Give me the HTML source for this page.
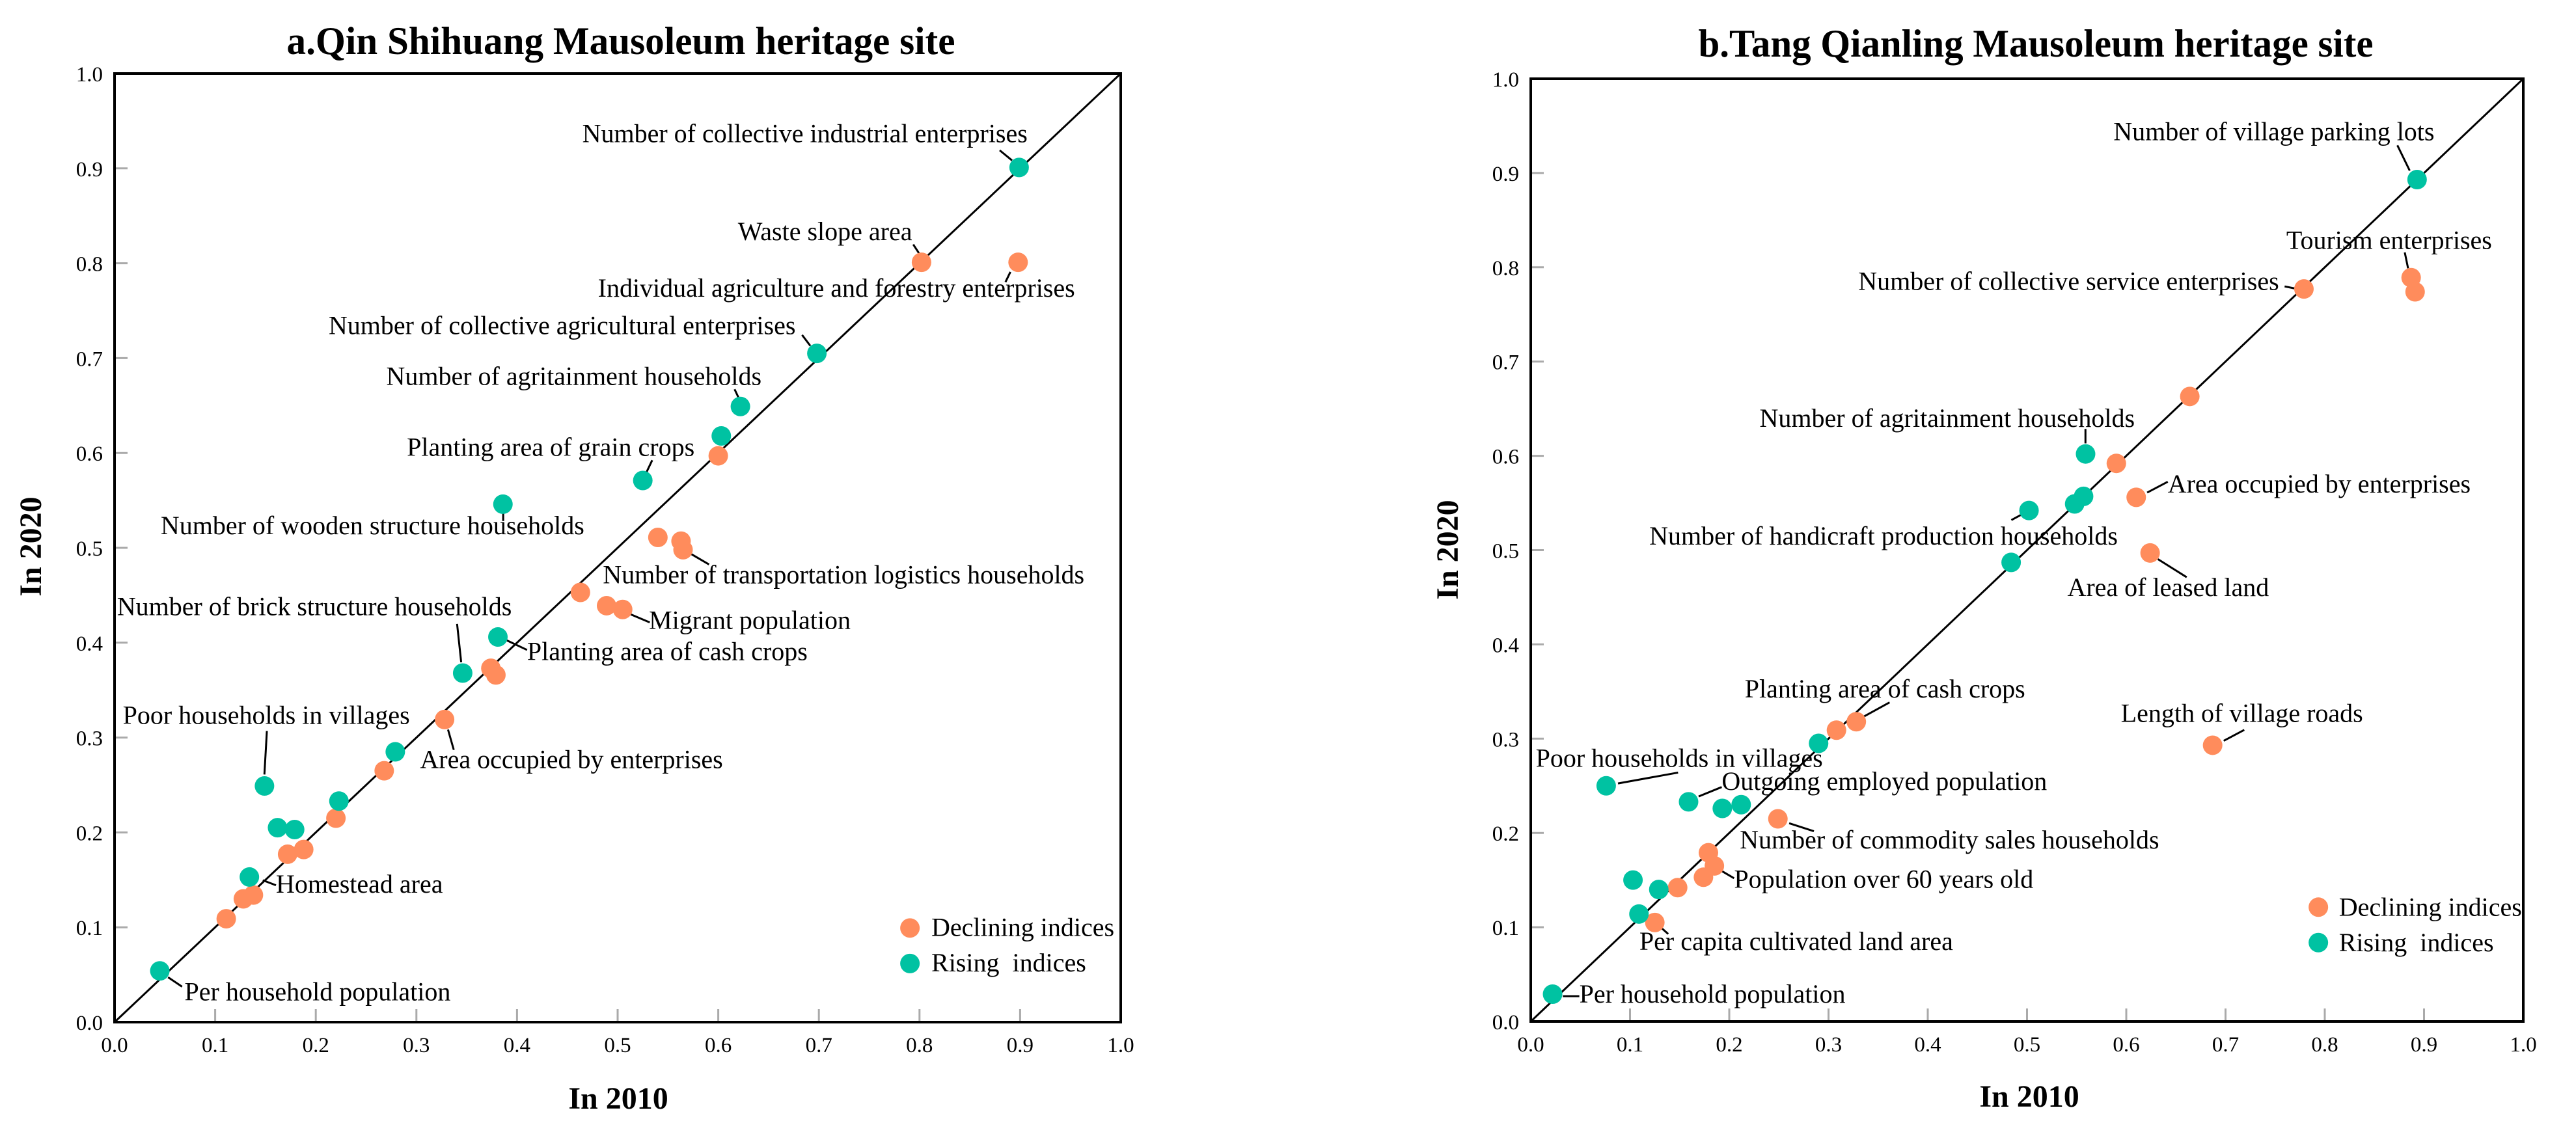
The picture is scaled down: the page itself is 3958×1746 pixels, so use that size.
<!DOCTYPE html>
<html><head><meta charset="utf-8"><style>
html,body{margin:0;padding:0;background:#fff}
svg{display:block}
svg text{font-family:"Liberation Serif","Times New Roman",serif}
</style></head><body>
<svg id="chart" width="3958" height="1746" viewBox="0 0 3958 1746" xmlns="http://www.w3.org/2000/svg" font-family="Liberation Serif, serif">
<text x="954" y="83" text-anchor="middle" font-size="60" font-weight="bold" textLength="1027" lengthAdjust="spacingAndGlyphs">a.Qin Shihuang Mausoleum heritage site</text>
<text x="3128" y="87" text-anchor="middle" font-size="60" font-weight="bold" textLength="1037" lengthAdjust="spacingAndGlyphs">b.Tang Qianling Mausoleum heritage site</text>
<text x="950" y="1704" text-anchor="middle" font-size="48" font-weight="bold">In 2010</text>
<text x="3118" y="1701" text-anchor="middle" font-size="48" font-weight="bold">In 2010</text>
<text transform="translate(63,840) rotate(-90)" text-anchor="middle" font-size="48" font-weight="bold">In 2020</text>
<text transform="translate(2240,845) rotate(-90)" text-anchor="middle" font-size="48" font-weight="bold">In 2020</text>
</svg>
<script>
// ---- data: panel a ----
const aRiseX=[0.899,0.698,0.622,0.603,0.525,0.386,0.381,0.346,0.279,0.223,0.149,0.162,0.179,0.134,0.045];
const aRiseY=[0.901,0.705,0.649,0.618,0.571,0.546,0.406,0.368,0.285,0.233,0.249,0.205,0.203,0.153,0.054];
const aDeclX=[0.802,0.898,0.600,0.540,0.563,0.565,0.463,0.489,0.505,0.374,0.379,0.328,0.268,0.220,0.172,0.188,0.128,0.138,0.111];
const aDeclY=[0.801,0.801,0.597,0.511,0.507,0.498,0.453,0.439,0.435,0.373,0.366,0.319,0.265,0.215,0.177,0.182,0.130,0.134,0.109];
// ---- data: panel b ----
const bRiseX=[0.893,0.559,0.557,0.548,0.502,0.484,0.290,0.076,0.159,0.193,0.212,0.103,0.129,0.109,0.022];
const bRiseY=[0.893,0.602,0.557,0.549,0.542,0.487,0.295,0.250,0.233,0.226,0.230,0.150,0.140,0.114,0.029];
const bDeclX=[0.887,0.891,0.779,0.664,0.590,0.610,0.624,0.687,0.328,0.308,0.249,0.179,0.185,0.174,0.148,0.125];
const bDeclY=[0.789,0.774,0.777,0.663,0.592,0.556,0.497,0.293,0.318,0.309,0.215,0.179,0.165,0.153,0.142,0.105];
const tickLabels=["0.0","0.1","0.2","0.3","0.4","0.5","0.6","0.7","0.8","0.9","1.0"];
const ORANGE="#FF8C5C", TEAL="#00C2A2";
const SERIF="Liberation Serif, serif";

const svg=document.getElementById('chart');
const NS="http://www.w3.org/2000/svg";
function mk(tag,attrs){const e=document.createElementNS(NS,tag);for(const k in attrs)e.setAttribute(k,attrs[k]);if(tag==='text')e.setAttribute('font-family',SERIF);svg.appendChild(e);return e;}

const panels=[
 {id:'a',x0:176,x1:1722,y0:1571,y1:113,zx0:140,zx1:1362,zy0:1412,zy1:102,
  rx:aRiseX,ry:aRiseY,dx:aDeclX,dy:aDeclY,
  labels:[
   ["Number of collective industrial enterprises",708,197,1215,208,1230,222],
   ["Waste slope area",897,332,1110,338,1118,352],
   ["Individual agriculture and forestry enterprises",727,410,1228,376,1222,390],
   ["Number of collective agricultural enterprises",400,462,975,463,985,478],
   ["Number of agritainment households",470,532,893,538,898,550],
   ["Planting area of grain crops",495,630,793,636,785,655],
   ["Number of wooden structure households",196,738,612,708,612,720],
   ["Number of transportation logistics households",733,806,838,764,862,780],
   ["Migrant population",789,869,765,848,790,860],
   ["Number of brick structure households",143,850,556,862,561,915],
   ["Planting area of cash crops",641,912,615,884,641,898],
   ["Poor households in villages",150,1000,325,1010,322,1070],
   ["Area occupied by enterprises",511,1061,545,1008,552,1036],
   ["Homestead area",336,1233,320,1216,336,1223],
   ["Per household population",225,1382,205,1350,222,1363]],
  legend:[[1106,1282,1132,1293],[1106,1331,1132,1342]]},
 {id:'b',x0:2352,x1:3877,y0:1570,y1:121,zx0:296,zx1:1502,zy0:1411,zy1:108,
  rx:bRiseX,ry:bRiseY,dx:bDeclX,dy:bDeclY,
  labels:[
   ["Number of village parking lots",1004,193,1349,200,1364,235],
   ["Tourism enterprises",1214,343,1358,348,1362,370],
   ["Number of collective service enterprises",694,400,1212,395,1225,398],
   ["Number of agritainment households",574,589,970,592,970,612],
   ["Area occupied by enterprises",1070,680,1045,680,1070,665],
   ["Number of handicraft production households",440,752,880,718,893,710],
   ["Area of leased land",948,823,1058,772,1093,797],
   ["Planting area of cash crops",556,963,700,990,732,970],
   ["Length of village roads",1013,997,1138,1023,1163,1008],
   ["Poor households in villages",302,1059,402,1082,475,1067],
   ["Outgoing employed population",528,1091,500,1100,528,1087],
   ["Number of commodity sales households",550,1172,610,1137,640,1148],
   ["Population over 60 years old",543,1226,528,1203,543,1213],
   ["Per capita cultivated land area",428,1312,455,1282,463,1290],
   ["Per household population",355,1385,335,1376,355,1376]],
  legend:[[1253,1253,1278,1265],[1253,1302,1278,1314]]}
];

panels.forEach(p=>{
  const sx=v=>p.x0+v*(p.x1-p.x0), sy=v=>p.y0+v*(p.y1-p.y0);
  const zx=z=>sx((z-p.zx0)/(p.zx1-p.zx0)), zy=z=>sy((p.zy0-z)/(p.zy0-p.zy1));
  tickLabels.forEach((t,i)=>{
    const v=i/10;
    if(i>0&&i<10){
      const tx=mk('line',{x1:sx(v),x2:sx(v),y1:p.y0,y2:p.y0-20,stroke:'#aaa','stroke-width':3});
      
      
      const ty=mk('line',{x1:p.x0,x2:p.x0+20,y1:sy(v),y2:sy(v),stroke:'#aaa','stroke-width':3});
      
      
    }
    const lx=mk('text',{x:sx(v),y:p.y0+46,'text-anchor':'middle','font-size':33});
    lx.textContent=t;
    
    
    const ly=mk('text',{x:p.x0-18,y:sy(v)+12,'text-anchor':'end','font-size':33});
    ly.textContent=t;
    
    
  });
  const diag=mk('line',{x1:sx(0),y1:sy(0),x2:sx(1),y2:sy(1),stroke:'#000','stroke-width':3});
  
  
  const frame=mk('rect',{x:p.x0,y:p.y1,width:p.x1-p.x0,height:p.y0-p.y1,fill:'none',stroke:'#000','stroke-width':4});
  
  
  p.labels.forEach(l=>{
    const ln=mk('line',{x1:zx(l[3]),y1:zy(l[4]),x2:zx(l[5]),y2:zy(l[6]),stroke:'#000','stroke-width':3});
    
    
    const tx=mk('text',{x:zx(l[1]),y:zy(l[2]),'font-size':40});
    tx.textContent=l[0];
    
    
  });
  p.dx.forEach((v,i)=>{
    const c=mk('circle',{cx:sx(v),cy:sy(p.dy[i]),r:15,fill:ORANGE});
    
    
  });
  p.rx.forEach((v,i)=>{
    const c=mk('circle',{cx:sx(v),cy:sy(p.ry[i]),r:15,fill:TEAL});
    
    
  });
  const names=["Declining indices","Rising  indices"], cols=[ORANGE,TEAL];
  p.legend.forEach((g,i)=>{
    const c=mk('circle',{cx:zx(g[0]),cy:zy(g[1]),r:15,fill:cols[i]});
    
    
    const t=mk('text',{x:zx(g[2]),y:zy(g[3]),'font-size':40});
    t.setAttribute('style','white-space:pre');
    t.textContent=names[i];
    
    
  });
});
</script>
</body></html>
